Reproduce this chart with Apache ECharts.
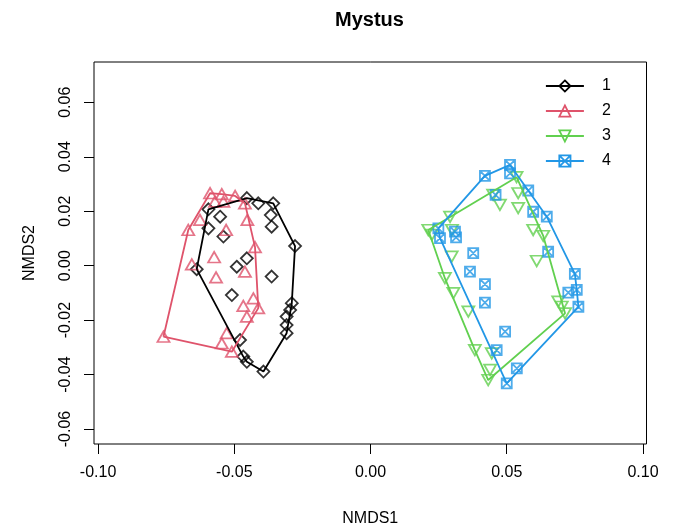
<!DOCTYPE html>
<html><head><meta charset="utf-8">
<script src="https://cdn.jsdelivr.net/npm/echarts@6/dist/echarts.min.js"></script>
<style>html,body{margin:0;padding:0;background:#fff}#c{width:673px;height:527px}</style>
</head><body><div id="c"></div>
<script>
const groupNames = ['1', '2', '3', '4'];
const xTicks = [-0.10, -0.05, 0.00, 0.05, 0.10];
const yTicks = [-0.06, -0.04, -0.02, 0.00, 0.02, 0.04, 0.06];

const g1x = [-0.0595, -0.0552, -0.0454, -0.0412, -0.0357, -0.0366, -0.0363, -0.0540, -0.0595, -0.0277, -0.0454, -0.0491, -0.0638, -0.0363, -0.0509, -0.0289, -0.0295, -0.0308, -0.0308, -0.0308, -0.0479, -0.0467, -0.0454, -0.0393];
const g1y = [0.0207, 0.0180, 0.0248, 0.0229, 0.0229, 0.0186, 0.0143, 0.0107, 0.0137, 0.0072, 0.0027, -0.0004, -0.0013, -0.0040, -0.0108, -0.0138, -0.0163, -0.0187, -0.0218, -0.0248, -0.0273, -0.0334, -0.0353, -0.0389];

const g2x = [-0.0589, -0.0546, -0.0497, -0.0540, -0.0461, -0.0626, -0.0669, -0.0452, -0.0530, -0.0424, -0.0574, -0.0656, -0.0461, -0.0567, -0.0430, -0.0467, -0.0412, -0.0454, -0.0760, -0.0528, -0.0546, -0.0509, -0.0571];
const g2y = [0.0266, 0.0263, 0.0256, 0.0235, 0.0229, 0.0168, 0.0131, 0.0168, 0.0131, 0.0068, 0.0031, 0.0005, -0.0022, -0.0043, -0.0120, -0.0148, -0.0156, -0.0187, -0.0261, -0.0248, -0.0285, -0.0316, 0.0235];

const g3x = [0.0536, 0.0475, 0.0542, 0.0542, 0.0292, 0.0212, 0.0225, 0.0299, 0.0597, 0.0634, 0.0298, 0.0610, 0.0273, 0.0304, 0.0359, 0.0689, 0.0702, 0.0714, 0.0383, 0.0445, 0.0439, 0.0432, 0.0450];
const g3y = [0.0325, 0.0223, 0.0266, 0.0211, 0.0179, 0.0131, 0.0113, 0.0131, 0.0131, 0.0109, 0.0033, 0.0017, -0.0046, -0.0101, -0.0169, -0.0132, -0.0151, -0.0175, -0.0310, -0.0322, -0.0383, -0.0420, 0.0260];

const g4x = [0.0512, 0.0512, 0.0420, 0.0459, 0.0579, 0.0597, 0.0647, 0.0249, 0.0255, 0.0310, 0.0314, 0.0377, 0.0652, 0.0365, 0.0420, 0.0420, 0.0750, 0.0757, 0.0726, 0.0763, 0.0494, 0.0463, 0.0537, 0.0500];
const g4y = [0.0370, 0.0339, 0.0330, 0.0260, 0.0276, 0.0198, 0.0180, 0.0137, 0.0101, 0.0125, 0.0104, 0.0046, 0.0051, -0.0022, -0.0068, -0.0136, -0.0030, -0.0089, -0.0099, -0.0151, -0.0242, -0.0310, -0.0377, -0.0432];

const colors = ['#000000', '#DF536B', '#61D04F', '#2297E6'];
const symbols = [
  'path://M5,0L10,5L5,10L0,5Z',
  'path://M5,0L10,8.66L0,8.66Z',
  'path://M0,0L10,0L5,8.66Z',
  'path://M0,0L10,0L10,10L0,10ZM0,0L10,10M10,0L0,10'
];
const symSizes = [[12, 12], [12, 10.5], [12, 10.5], [10, 10]];
const font = 'Liberation Sans, Arial, Helvetica, sans-serif';

const groups = [[g1x, g1y], [g2x, g2y], [g3x, g3y], [g4x, g4y]];

function hull(pts) {
  const p = pts.slice().sort((a, b) => a[0] - b[0] || a[1] - b[1]);
  const cross = (o, a, b) => (a[0] - o[0]) * (b[1] - o[1]) - (a[1] - o[1]) * (b[0] - o[0]);
  const lower = [], upper = [];
  for (const q of p) { while (lower.length >= 2 && cross(lower[lower.length - 2], lower[lower.length - 1], q) <= 0) lower.pop(); lower.push(q); }
  for (let i = p.length - 1; i >= 0; i--) { const q = p[i]; while (upper.length >= 2 && cross(upper[upper.length - 2], upper[upper.length - 1], q) <= 0) upper.pop(); upper.push(q); }
  upper.pop(); lower.pop();
  const h = lower.concat(upper);
  h.push(h[0]);
  return h;
}

const series = [];
groups.forEach((g, i) => {
  const pts = g[0].map((x, k) => [x, g[1][k]]);
  series.push({
    type: 'scatter', name: 'pts' + groupNames[i], data: pts,
    symbol: symbols[i], symbolSize: symSizes[i],
    itemStyle: { color: 'transparent', borderColor: colors[i], borderWidth: 1.8 },
    emphasis: { disabled: true }, silent: true
  });
  series.push({
    type: 'line', name: groupNames[i], data: hull(pts),
    symbol: symbols[i], showSymbol: false,
    itemStyle: { color: 'transparent', borderColor: colors[i], borderWidth: 1.8 },
    lineStyle: { color: colors[i], width: 1.8 },
    emphasis: { disabled: true }, silent: true, animation: false
  });
});

const chart = echarts.init(document.getElementById('c'), null, { renderer: 'canvas' });
chart.setOption({
  animation: false,
  backgroundColor: '#fff',
  title: { text: 'Mystus', left: 335, top: 10, padding: 0,
    textStyle: { fontSize: 20, fontWeight: 'bold', color: '#000', fontFamily: font } },
  legend: {
    data: groupNames, orient: 'vertical', left: 545, top: 78, padding: 0,
    itemWidth: 38, itemHeight: 14, itemGap: 9,
    itemStyle: { borderWidth: 1.8 }, lineStyle: { width: 1.8 },
    textStyle: { fontSize: 16, color: '#000', fontFamily: font, padding: [0, 0, 0, 13] },
    selectedMode: false
  },
  grid: { left: 94, right: 26.5, top: 62, bottom: 83, show: true, borderColor: '#000', borderWidth: 1,
    backgroundColor: 'transparent', containLabel: false, outerBoundsMode: 'none' },
  xAxis: {
    type: 'value', min: -0.1015, max: 0.1013,
    name: 'NMDS1', nameLocation: 'middle', nameGap: 67,
    nameTextStyle: { fontSize: 16, color: '#000', fontFamily: font },
    axisLine: { show: false, onZero: false },
    axisTick: { show: true, length: 10, customValues: xTicks, lineStyle: { color: '#000', width: 1 } },
    axisLabel: { customValues: xTicks, formatter: v => v.toFixed(2), fontSize: 16, color: '#000', fontFamily: font, margin: 21 },
    splitLine: { show: false }
  },
  yAxis: {
    type: 'value', min: -0.0655, max: 0.0748,
    name: 'NMDS2', nameLocation: 'middle', nameGap: 56, nameRotate: 90,
    nameTextStyle: { fontSize: 16, color: '#000', fontFamily: font },
    axisLine: { show: false, onZero: false },
    axisTick: { show: true, length: 10, customValues: yTicks, lineStyle: { color: '#000', width: 1 } },
    axisLabel: { customValues: yTicks, formatter: v => v.toFixed(2), rotate: 90, fontSize: 16, color: '#000', fontFamily: font, margin: 20 },
    splitLine: { show: false }
  },
  series: series
});
</script></body></html>
